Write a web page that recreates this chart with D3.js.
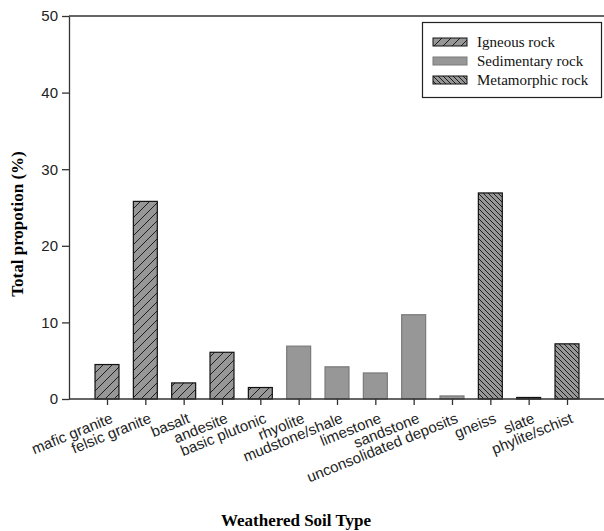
<!DOCTYPE html>
<html>
<head>
<meta charset="utf-8">
<script src="https://cdn.jsdelivr.net/npm/d3@7/dist/d3.min.js"></script>
<style>
  html, body { margin: 0; padding: 0; background: #fff; }
  svg { display: block; }
</style>
</head>
<body>
<svg id="chart" width="604" height="531"></svg>
<script>
// Weathered soil types and their total proportion (%)
const soilTypes = [
  "mafic granite", "felsic granite", "basalt", "andesite", "basic plutonic",
  "rhyolite", "mudstone/shale", "limestone", "sandstone", "unconsolidated deposits",
  "gneiss", "slate", "phylite/schist"
];
const proportions = [4.5, 25.8, 2.1, 6.1, 1.5, 6.9, 4.2, 3.4, 11.0, 0.4, 26.9, 0.2, 7.2];
const rockGroups = [
  "Igneous rock", "Igneous rock", "Igneous rock", "Igneous rock", "Igneous rock",
  "Sedimentary rock", "Sedimentary rock", "Sedimentary rock", "Sedimentary rock", "Sedimentary rock",
  "Metamorphic rock", "Metamorphic rock", "Metamorphic rock"
];
const groupNames = ["Igneous rock", "Sedimentary rock", "Metamorphic rock"];
const yTicks = [0, 10, 20, 30, 40, 50];

const svg = d3.select("#chart");
const plotLeft = 69, plotRight = 604, plotTop = 16, plotBottom = 399;

// Hatch patterns for the igneous and metamorphic groups
const defs = svg.append("defs");
function hatch(id, s, forward) {
  const p = defs.append("pattern")
    .attr("id", id)
    .attr("patternUnits", "userSpaceOnUse")
    .attr("width", s).attr("height", s);
  p.append("rect").attr("width", s).attr("height", s).attr("fill", "#979797");
  const d = forward
    ? `M0,${s} L${s},0 M${-s / 2},${s / 2} L${s / 2},${-s / 2} M${s / 2},${1.5 * s} L${1.5 * s},${s / 2}`
    : `M0,0 L${s},${s} M${-s / 2},${s / 2} L${s / 2},${1.5 * s} M${s / 2},${-s / 2} L${1.5 * s},${s / 2}`;
  p.append("path").attr("d", d).attr("stroke", "#111").attr("stroke-width", 0.9);
}
hatch("hatch-igneous", 9, true);
hatch("hatch-meta", 5, false);

const groupStyle = {
  "Igneous rock": { fill: "url(#hatch-igneous)", stroke: "#111" },
  "Sedimentary rock": { fill: "#979797", stroke: "#7a7a7a" },
  "Metamorphic rock": { fill: "url(#hatch-meta)", stroke: "#111" }
};

const x = d3.scalePoint().domain(soilTypes).range([107, 567]);
const barW = x.step() * 0.625;
const y = d3.scaleLinear().domain([0, 50]).range([plotBottom, plotTop]);

const data = soilTypes.map((name, i) => ({ name, value: proportions[i], group: rockGroups[i] }));

// Bars
svg.append("g").selectAll("rect").data(data).join("rect")
  .attr("x", d => x(d.name) - barW / 2)
  .attr("y", d => y(d.value))
  .attr("width", barW)
  .attr("height", d => y(0) - y(d.value))
  .attr("fill", d => groupStyle[d.group].fill)
  .attr("stroke", d => groupStyle[d.group].stroke)
  .attr("stroke-width", 1.2);

// Top frame line
svg.append("line").attr("x1", plotLeft).attr("x2", plotRight).attr("y1", plotTop).attr("y2", plotTop)
  .attr("stroke", "#333").attr("stroke-width", 1.3);

// Y axis
const yAxis = svg.append("g")
  .attr("transform", `translate(${plotLeft},0)`)
  .call(d3.axisLeft(y).tickValues(yTicks).tickSize(7).tickPadding(4).tickSizeOuter(0));
yAxis.select(".domain").attr("stroke", "#333").attr("stroke-width", 1.3);
yAxis.selectAll(".tick line").attr("stroke", "#333").attr("stroke-width", 1.3);
yAxis.selectAll(".tick text")
  .attr("font-family", "Liberation Sans, Arial, sans-serif")
  .attr("font-size", 15).attr("fill", "#222");

// X axis
const xAxis = svg.append("g")
  .attr("transform", `translate(0,${plotBottom})`)
  .call(d3.axisBottom(x).tickSize(6).tickSizeOuter(0));
xAxis.select(".domain").attr("d", `M${plotLeft},0H${plotRight}`).attr("stroke", "#333").attr("stroke-width", 1.3);
xAxis.selectAll(".tick line").attr("stroke", "#333").attr("stroke-width", 1.3);
xAxis.selectAll(".tick text")
  .attr("font-family", "Liberation Sans, Arial, sans-serif")
  .attr("font-size", 15).attr("fill", "#222")
  .attr("text-anchor", "end")
  .attr("transform", "translate(-1,5) rotate(-22)")
  .attr("dy", "0.71em");

// Axis titles
svg.append("text")
  .attr("transform", `translate(23,224) rotate(-90)`)
  .attr("text-anchor", "middle")
  .attr("font-family", "Liberation Serif, Times New Roman, serif")
  .attr("font-weight", "bold").attr("font-size", 17)
  .text("Total propotion (%)");
svg.append("text")
  .attr("x", 296).attr("y", 526)
  .attr("text-anchor", "middle")
  .attr("font-family", "Liberation Serif, Times New Roman, serif")
  .attr("font-weight", "bold").attr("font-size", 17)
  .text("Weathered Soil Type");

// Legend
const legend = svg.append("g");
legend.append("rect")
  .attr("x", 422.5).attr("y", 22.5).attr("width", 179).attr("height", 75)
  .attr("fill", "#fff").attr("stroke", "#222").attr("stroke-width", 1.2);
const items = legend.selectAll("g.item").data(groupNames).join("g")
  .attr("class", "item")
  .attr("transform", (d, i) => `translate(433,${38 + i * 19})`);
items.append("rect")
  .attr("width", 34).attr("height", 8)
  .attr("fill", d => groupStyle[d].fill)
  .attr("stroke", d => groupStyle[d].stroke)
  .attr("stroke-width", 1);
items.append("text")
  .attr("x", 44).attr("y", 9)
  .attr("font-family", "Liberation Serif, Times New Roman, serif")
  .attr("font-size", 15).attr("fill", "#111")
  .text(d => d);
</script>
</body>
</html>
